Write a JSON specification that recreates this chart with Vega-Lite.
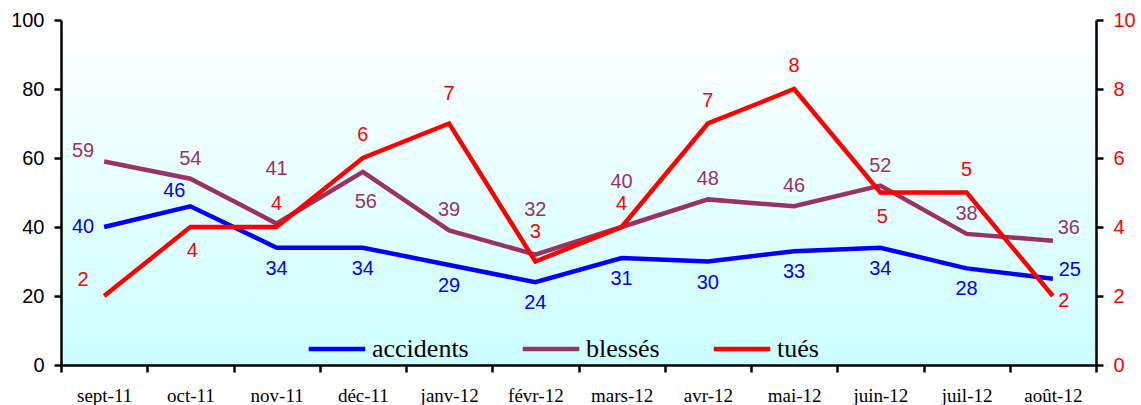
{
  "$schema": "https://vega.github.io/schema/vega-lite/v6.json",
  "width": 1035,
  "height": 345,
  "autosize": {"type": "none"},
  "padding": {"left": 61, "top": 20, "right": 45, "bottom": 40},
  "background": "white",
  "view": {
    "stroke": null,
    "fill": {"gradient": "linear", "x1": 0, "y1": 0, "x2": 0, "y2": 1,
      "stops": [{"offset": 0, "color": "#FFFFFF"}, {"offset": 1, "color": "#CCFFFF"}]}
  },
  "config": {
    "style": {"datalabel": {"font": "Liberation Sans", "fontSize": 20}},
    "legend": {"labelFont": "Liberation Serif", "labelFontSize": 26, "labelColor": "black"}
  },
  "data": {"values": [
    {"month": "sept-11", "serie": "accidents", "value": 40},
    {"month": "oct-11", "serie": "accidents", "value": 46},
    {"month": "nov-11", "serie": "accidents", "value": 34},
    {"month": "déc-11", "serie": "accidents", "value": 34},
    {"month": "janv-12", "serie": "accidents", "value": 29},
    {"month": "févr-12", "serie": "accidents", "value": 24},
    {"month": "mars-12", "serie": "accidents", "value": 31},
    {"month": "avr-12", "serie": "accidents", "value": 30},
    {"month": "mai-12", "serie": "accidents", "value": 33},
    {"month": "juin-12", "serie": "accidents", "value": 34},
    {"month": "juil-12", "serie": "accidents", "value": 28},
    {"month": "août-12", "serie": "accidents", "value": 25},
    {"month": "sept-11", "serie": "blessés", "value": 59},
    {"month": "oct-11", "serie": "blessés", "value": 54},
    {"month": "nov-11", "serie": "blessés", "value": 41},
    {"month": "déc-11", "serie": "blessés", "value": 56},
    {"month": "janv-12", "serie": "blessés", "value": 39},
    {"month": "févr-12", "serie": "blessés", "value": 32},
    {"month": "mars-12", "serie": "blessés", "value": 40},
    {"month": "avr-12", "serie": "blessés", "value": 48},
    {"month": "mai-12", "serie": "blessés", "value": 46},
    {"month": "juin-12", "serie": "blessés", "value": 52},
    {"month": "juil-12", "serie": "blessés", "value": 38},
    {"month": "août-12", "serie": "blessés", "value": 36},
    {"month": "sept-11", "serie": "tués", "value": 2},
    {"month": "oct-11", "serie": "tués", "value": 4},
    {"month": "nov-11", "serie": "tués", "value": 4},
    {"month": "déc-11", "serie": "tués", "value": 6},
    {"month": "janv-12", "serie": "tués", "value": 7},
    {"month": "févr-12", "serie": "tués", "value": 3},
    {"month": "mars-12", "serie": "tués", "value": 4},
    {"month": "avr-12", "serie": "tués", "value": 7},
    {"month": "mai-12", "serie": "tués", "value": 8},
    {"month": "juin-12", "serie": "tués", "value": 5},
    {"month": "juil-12", "serie": "tués", "value": 5},
    {"month": "août-12", "serie": "tués", "value": 2}
  ]},
  "encoding": {
    "x": {
      "field": "month", "type": "ordinal", "sort": null,
      "scale": {"type": "band", "paddingInner": 0, "paddingOuter": 0},
      "axis": {
        "title": null, "labelAngle": 0, "tickBand": "extent",
        "domainColor": "black", "domainWidth": 2.5, "tickColor": "black", "tickWidth": 2.5, "tickSize": 7,
        "labelFont": "Liberation Serif", "labelFontSize": 19, "labelColor": "black", "labelPadding": 14
      }
    }
  },
  "layer": [
    {
      "transform": [{"filter": "datum.serie !== 'tués'"}],
      "encoding": {
        "y": {
          "field": "value", "type": "quantitative",
          "scale": {"domain": [0, 100], "nice": false},
          "axis": {
            "title": null, "orient": "left", "grid": false, "values": [0, 20, 40, 60, 80, 100],
            "domainColor": "black", "domainWidth": 2.5, "tickColor": "black", "tickWidth": 2.5, "tickSize": 7,
            "labelFont": "Liberation Sans", "labelFontSize": 20, "labelColor": "black", "labelPadding": 10
          }
        }
      },
      "layer": [
        {
          "mark": {"type": "line", "strokeWidth": 4.5},
          "encoding": {
            "color": {
              "field": "serie", "type": "nominal",
              "scale": {"domain": ["accidents", "blessés", "tués"], "range": ["#0000FF", "#993366", "#FF0000"]},
              "legend": {
                "title": null, "orient": "none", "legendX": 245, "legendY": 298, "direction": "horizontal",
                "symbolType": "stroke", "symbolStrokeWidth": 4.5, "symbolSize": 3200,
                "labelFont": "Liberation Serif", "labelFontSize": 26, "labelColor": "black",
                "labelOffset": 4, "columnPadding": 44
              }
            }
          }
        },
        {
          "transform": [{"filter": "datum.serie === 'accidents' && indexof(['sept-11','oct-11','août-12'], datum.month) < 0"}],
          "mark": {"type": "text", "style": "datalabel", "fill": "#0000FF", "dy": 21},
          "encoding": {"text": {"field": "value"}}
        },
        {
          "transform": [{"filter": "datum.serie === 'accidents' && datum.month === 'sept-11'"}],
          "mark": {"type": "text", "style": "datalabel", "fill": "#0000FF", "dx": -21, "dy": 0},
          "encoding": {"text": {"field": "value"}}
        },
        {
          "transform": [{"filter": "datum.serie === 'accidents' && datum.month === 'oct-11'"}],
          "mark": {"type": "text", "style": "datalabel", "fill": "#0000FF", "dx": -16, "dy": -15},
          "encoding": {"text": {"field": "value"}}
        },
        {
          "transform": [{"filter": "datum.serie === 'accidents' && datum.month === 'août-12'"}],
          "mark": {"type": "text", "style": "datalabel", "fill": "#0000FF", "dx": 17, "dy": -9},
          "encoding": {"text": {"field": "value"}}
        },
        {
          "transform": [{"filter": "datum.serie === 'blessés' && indexof(['oct-11','janv-12','avr-12','mai-12','juin-12','juil-12'], datum.month) >= 0"}],
          "mark": {"type": "text", "style": "datalabel", "fill": "#993366", "dy": -20},
          "encoding": {"text": {"field": "value"}}
        },
        {
          "transform": [{"filter": "datum.serie === 'blessés' && datum.month === 'nov-11'"}],
          "mark": {"type": "text", "style": "datalabel", "fill": "#993366", "dy": -55},
          "encoding": {"text": {"field": "value"}}
        },
        {
          "transform": [{"filter": "datum.serie === 'blessés' && indexof(['févr-12','mars-12'], datum.month) >= 0"}],
          "mark": {"type": "text", "style": "datalabel", "fill": "#993366", "dy": -45},
          "encoding": {"text": {"field": "value"}}
        },
        {
          "transform": [{"filter": "datum.serie === 'blessés' && datum.month === 'déc-11'"}],
          "mark": {"type": "text", "style": "datalabel", "fill": "#993366", "dx": 3, "dy": 30},
          "encoding": {"text": {"field": "value"}}
        },
        {
          "transform": [{"filter": "datum.serie === 'blessés' && datum.month === 'sept-11'"}],
          "mark": {"type": "text", "style": "datalabel", "fill": "#993366", "dx": -21, "dy": -10},
          "encoding": {"text": {"field": "value"}}
        },
        {
          "transform": [{"filter": "datum.serie === 'blessés' && datum.month === 'août-12'"}],
          "mark": {"type": "text", "style": "datalabel", "fill": "#993366", "dx": 16, "dy": -13},
          "encoding": {"text": {"field": "value"}}
        }
      ]
    },
    {
      "transform": [{"filter": "datum.serie === 'tués'"}],
      "encoding": {
        "y": {
          "field": "value", "type": "quantitative",
          "scale": {"domain": [0, 10], "nice": false},
          "axis": {
            "title": null, "orient": "right", "grid": false, "values": [0, 2, 4, 6, 8, 10],
            "domainColor": "black", "domainWidth": 2.5, "tickColor": "black", "tickWidth": 2.5, "tickSize": 7,
            "labelFont": "Liberation Sans", "labelFontSize": 20, "labelColor": "#FF0000", "labelPadding": 10
          }
        }
      },
      "layer": [
        {
          "mark": {"type": "line", "strokeWidth": 4.5, "stroke": "#FF0000"},
          "encoding": {}
        },
        {
          "transform": [{"filter": "indexof(['nov-11','déc-11','mars-12','avr-12','mai-12','juil-12'], datum.month) >= 0"}],
          "mark": {"type": "text", "style": "datalabel", "fill": "#FF0000", "dy": -23},
          "encoding": {"text": {"field": "value"}}
        },
        {
          "transform": [{"filter": "indexof(['janv-12','févr-12'], datum.month) >= 0"}],
          "mark": {"type": "text", "style": "datalabel", "fill": "#FF0000", "dy": -30},
          "encoding": {"text": {"field": "value"}}
        },
        {
          "transform": [{"filter": "indexof(['oct-11','juin-12'], datum.month) >= 0"}],
          "mark": {"type": "text", "style": "datalabel", "fill": "#FF0000", "dx": 2, "dy": 24},
          "encoding": {"text": {"field": "value"}}
        },
        {
          "transform": [{"filter": "datum.month === 'sept-11'"}],
          "mark": {"type": "text", "style": "datalabel", "fill": "#FF0000", "dx": -21, "dy": -16},
          "encoding": {"text": {"field": "value"}}
        },
        {
          "transform": [{"filter": "datum.month === 'août-12'"}],
          "mark": {"type": "text", "style": "datalabel", "fill": "#FF0000", "dx": 11, "dy": 5},
          "encoding": {"text": {"field": "value"}}
        }
      ]
    }
  ],
  "resolve": {"scale": {"y": "independent"}}
}
